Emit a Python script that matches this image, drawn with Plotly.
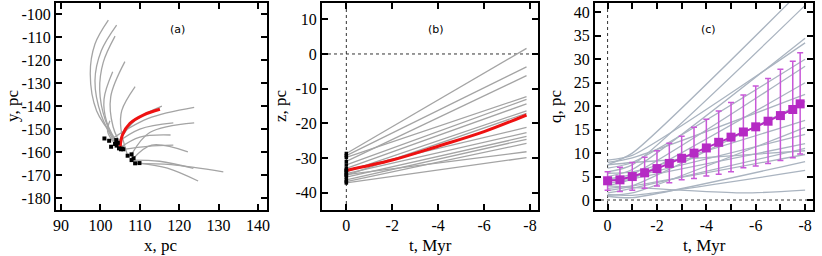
import plotly.graph_objects as go

# ---------------- Panel (a): x-y trajectories ----------------
dots_x = [101.0, 102.2, 102.7, 104.0, 103.7, 104.1, 104.7, 105.2, 105.8, 106.9, 107.9, 107.9, 108.4, 108.8, 109.9, 104.4, 105.5]
dots_y = [-154.1, -155.1, -157.7, -154.8, -156.5, -157.2, -158.4, -158.8, -158.8, -161.6, -161.0, -163.5, -162.7, -164.9, -164.8, -156.0, -158.5]

traj_x = [
    [104.0, 99.0, 97.4, 98.6, 102.0],
    [104.1, 100.2, 98.6, 100.2, 104.1],
    [104.7, 101.2, 99.8, 100.7, 103.7],
    [105.2, 101.6, 100.9, 103.1],
    [105.8, 103.2, 102.6, 106.2],
    [106.9, 105.2, 105.4, 108.8],
    [103.7, 101.8, 102.4],
    [102.2, 112.0, 123.8],
    [104.4, 109.0, 115.6],
    [103.7, 110.0, 118.5],
    [107.9, 112.5, 123.8],
    [104.7, 110.0, 117.8],
    [105.8, 112.0, 118.5],
    [108.4, 113.0, 122.2],
    [108.8, 118.0, 131.2],
    [109.9, 117.0, 124.8],
    [107.9, 115.0, 123.6],
]
traj_y = [
    [-154.8, -142.0, -126.0, -113.0, -102.6],
    [-157.2, -144.0, -129.0, -116.0, -104.8],
    [-158.4, -146.0, -133.0, -121.0, -109.6],
    [-158.8, -147.0, -137.0, -125.1],
    [-158.8, -149.0, -136.0, -120.7],
    [-161.6, -150.0, -142.0, -131.6],
    [-156.5, -151.0, -146.4],
    [-155.1, -145.5, -140.6],
    [-156.0, -146.0, -140.0],
    [-156.5, -150.0, -147.3],
    [-161.0, -151.5, -147.3],
    [-158.4, -153.5, -152.6],
    [-158.8, -157.5, -157.0],
    [-162.7, -157.0, -159.9],
    [-164.9, -165.5, -168.6],
    [-164.8, -167.0, -172.6],
    [-163.5, -164.0, -167.1],
]
red_x = [105.0, 105.6, 107.5, 111.0, 115.1]
red_y = [-157.7, -152.5, -147.5, -143.8, -141.4]

a_xticks = [90, 100, 110, 120, 130, 140]
a_xtext = ["90", "100", "110", "120", "130", "140"]
a_yticks = [-180, -170, -160, -150, -140, -130, -120, -110, -100]
a_ytext = ["-180", "-170", "-160", "-150", "-140", "-130", "-120", "-110", "-100"]

# ---------------- Panel (b): z(t) ----------------
b_t = [0, -7.85]
b_z = [
    [-28.7, 1.6], [-29.3, -3.7], [-31.0, -6.25], [-29.8, -12.3], [-32.0, -13.1],
    [-33.0, -14.4], [-34.0, -16.4], [-35.0, -17.1], [-33.5, -21.2], [-34.5, -22.7],
    [-35.5, -23.8], [-36.3, -24.6], [-36.8, -25.8], [-34.8, -28.2], [-37.2, -29.9],
]
b_red_t = [0, -2, -4, -6, -7.85]
b_red_z = [-33.6, -30.6, -26.6, -22.4, -17.6]

b_xticks = [0, -2, -4, -6, -8]
b_xtext = ["0", "-2", "-4", "-6", "-8"]
b_yticks = [-40, -30, -20, -10, 0, 10]
b_ytext = ["-40", "-30", "-20", "-10", "0", "10"]

# ---------------- Panel (c): q(t) ----------------
c_t = [
    [0, -1, -8], [0, -1, -8], [0, -1, -8], [0, -1, -8], [0, -1, -8],
    [0, -1, -8], [0, -1, -8], [0, -1, -8], [0, -1, -8], [0, -1, -8],
    [0, -1, -8], [0, -1, -8], [0, -1, -8], [0, -1, -8], [0, -1, -8],
    [0, -1, -8], [0, -1, -8], [0, -1, -8], [0, -5.5, -8],
]
c_q = [
    [7.5, 10.0, 45.5], [6.0, 7.5, 41.5], [5.0, 6.5, 34.5], [8.5, 9.5, 33.5],
    [6.8, 8.0, 30.0], [4.5, 5.5, 28.5], [3.0, 4.5, 25.0], [8.0, 9.0, 22.5],
    [2.0, 3.0, 21.0], [5.7, 6.0, 17.0], [1.0, 1.5, 15.5], [4.3, 5.0, 14.0],
    [3.5, 4.5, 12.0], [1.5, 2.5, 11.0], [7.5, 8.0, 10.5], [2.5, 3.0, 9.7],
    [0.8, 0.5, 8.2], [1.2, 1.0, 6.3], [3.0, 1.5, 2.1],
]
mean_t = [0, -0.5, -1, -1.5, -2, -2.5, -3, -3.5, -4, -4.5, -5, -5.5, -6, -6.5, -7, -7.5, -7.8]
mean_q = [4.1, 4.3, 5.0, 5.8, 6.7, 7.8, 8.9, 10.0, 11.1, 12.3, 13.4, 14.5, 15.6, 16.8, 18.0, 19.3, 20.5]
q_hi = [6.0, 7.0, 8.0, 9.1, 10.5, 12.1, 13.6, 15.5, 17.2, 19.0, 20.8, 22.4, 24.3, 25.9, 27.9, 29.6, 31.4]
q_lo = [2.1, 1.8, 2.1, 2.5, 3.0, 3.7, 4.3, 4.6, 5.1, 5.5, 6.0, 6.9, 7.25, 7.8, 8.4, 9.0, 9.8]

c_xticks = [0, -2, -4, -6, -8]
c_xtext = ["0", "-2", "-4", "-6", "-8"]
c_yticks = [0, 5, 10, 15, 20, 25, 30, 35, 40]
c_ytext = ["0", "5", "10", "15", "20", "25", "30", "35", "40"]

# ---------------- Figure ----------------
W, H = 822, 256
GRAY = "#a4a4a4"
BLUEGRAY = "#aab4c0"
MAG = "#b52ac4"
MAG_ERR = "#c858d8"
SERIF = "Liberation Serif, Times New Roman, serif"

fig = go.Figure()

for xs, ys in zip(traj_x, traj_y):
    fig.add_trace(go.Scatter(x=xs, y=ys, mode="lines", line=dict(color=GRAY, width=1.3, shape="spline"),
                             xaxis="x", yaxis="y", showlegend=False, hoverinfo="skip"))
fig.add_trace(go.Scatter(x=red_x, y=red_y, mode="lines", line=dict(color="#ee1111", width=3, shape="spline"),
                         xaxis="x", yaxis="y", showlegend=False))
fig.add_trace(go.Scatter(x=dots_x, y=dots_y, mode="markers", marker=dict(color="black", size=4, symbol="square"),
                         xaxis="x", yaxis="y", showlegend=False))

for zs in b_z:
    fig.add_trace(go.Scatter(x=b_t, y=zs, mode="lines", line=dict(color=GRAY, width=1.3),
                             xaxis="x2", yaxis="y2", showlegend=False))
fig.add_trace(go.Scatter(x=b_red_t, y=b_red_z, mode="lines", line=dict(color="#ee1111", width=3, shape="spline"),
                         xaxis="x2", yaxis="y2", showlegend=False))
fig.add_trace(go.Scatter(x=[0] * (len(b_z) + 1), y=[zs[0] for zs in b_z] + [b_red_z[0]], mode="markers",
                         marker=dict(color="black", size=3.5, symbol="square"),
                         xaxis="x2", yaxis="y2", showlegend=False))

for ts, qs in zip(c_t, c_q):
    fig.add_trace(go.Scatter(x=ts, y=qs, mode="lines", line=dict(color=BLUEGRAY, width=1.3, shape="spline",
                                                                  smoothing=0.6),
                             xaxis="x3", yaxis="y3", showlegend=False))
fig.add_trace(go.Scatter(
    x=mean_t, y=mean_q, mode="lines+markers",
    line=dict(color=MAG, width=2),
    marker=dict(color=MAG, size=9, symbol="square"),
    error_y=dict(type="data", symmetric=False,
                 array=[h - m for h, m in zip(q_hi, mean_q)],
                 arrayminus=[m - l for m, l in zip(mean_q, q_lo)],
                 color=MAG_ERR, thickness=1.5, width=3),
    xaxis="x3", yaxis="y3", showlegend=False))


def px2fx(p):
    return p / W


def py2fy(p):
    return 1 - p / H


ydom = [py2fy(210), py2fy(3)]
axis_common = dict(showline=True, linecolor="black", linewidth=2, mirror="ticks",
                   ticks="inside", ticklen=6, tickwidth=1.5, tickcolor="black",
                   showgrid=False, zeroline=False, automargin=False,
                   tickfont=dict(family=SERIF, size=16, color="black"), tickmode="array")

fig.update_layout(
    width=W, height=H, margin=dict(l=0, r=0, t=0, b=0),
    paper_bgcolor="white", plot_bgcolor="white", showlegend=False,
    font=dict(family=SERIF),
    xaxis=dict(domain=[px2fx(56), px2fx(267)], range=[88.7, 142.3], tickvals=a_xticks, ticktext=a_xtext,
               anchor="y", **axis_common),
    yaxis=dict(domain=ydom, range=[-185.2, -95.2], tickvals=a_yticks, ticktext=a_ytext,
               anchor="x", **axis_common),
    xaxis2=dict(domain=[px2fx(322), px2fx(538)], range=[1.06, -8.35], tickvals=b_xticks, ticktext=b_xtext,
                anchor="y2", **axis_common),
    yaxis2=dict(domain=ydom, range=[-45, 14.7], tickvals=b_yticks, ticktext=b_ytext,
                anchor="x2", **axis_common),
    xaxis3=dict(domain=[px2fx(595), px2fx(813)], range=[0.51, -8.32], tickvals=c_xticks, ticktext=c_xtext,
                anchor="y3", minor=dict(tickvals=[-1, -3, -5, -7], ticks="inside", ticklen=6, tickwidth=1.5,
                                        tickcolor="black"),
                **axis_common),
    yaxis3=dict(domain=ydom, range=[-2.13, 42], tickvals=c_yticks, ticktext=c_ytext,
                anchor="x3", **axis_common),
)

dash = dict(color="#333333", width=1, dash="dot")
fig.add_shape(type="line", xref="x2", yref="y2 domain", x0=0, x1=0, y0=0, y1=1, line=dash, layer="below")
fig.add_shape(type="line", xref="x2 domain", yref="y2", x0=0, x1=1, y0=0, y1=0, line=dash, layer="below")
fig.add_shape(type="line", xref="x3", yref="y3 domain", x0=0, x1=0, y0=0, y1=1, line=dash, layer="below")
fig.add_shape(type="line", xref="x3 domain", yref="y3", x0=0, x1=1, y0=0, y1=0, line=dash, layer="below")

ann_font = dict(family=SERIF, size=17, color="black")
for txt, cx in [("x, pc", 161), ("t, Myr", 430), ("t, Myr", 704)]:
    fig.add_annotation(text=txt, x=px2fx(cx), y=py2fy(245), xref="paper", yref="paper",
                       showarrow=False, font=ann_font, xanchor="center", yanchor="middle")
for txt, cx in [("y, pc", 12), ("z, pc", 280), ("q, pc", 555)]:
    fig.add_annotation(text=txt, x=px2fx(cx), y=py2fy(106), xref="paper", yref="paper",
                       showarrow=False, font=ann_font, textangle=-90, xanchor="center", yanchor="middle")
for txt, cx in [("(a)", 177), ("(b)", 436), ("(c)", 708)]:
    fig.add_annotation(text=txt, x=px2fx(cx), y=py2fy(29), xref="paper", yref="paper",
                       showarrow=False, font=dict(family="DejaVu Sans", size=11, color="black"),
                       xanchor="center", yanchor="middle")

fig.write_html("out.html", config={"displayModeBar": False},
               post_script="document.body.style.margin='0';document.body.style.overflow='hidden';")
